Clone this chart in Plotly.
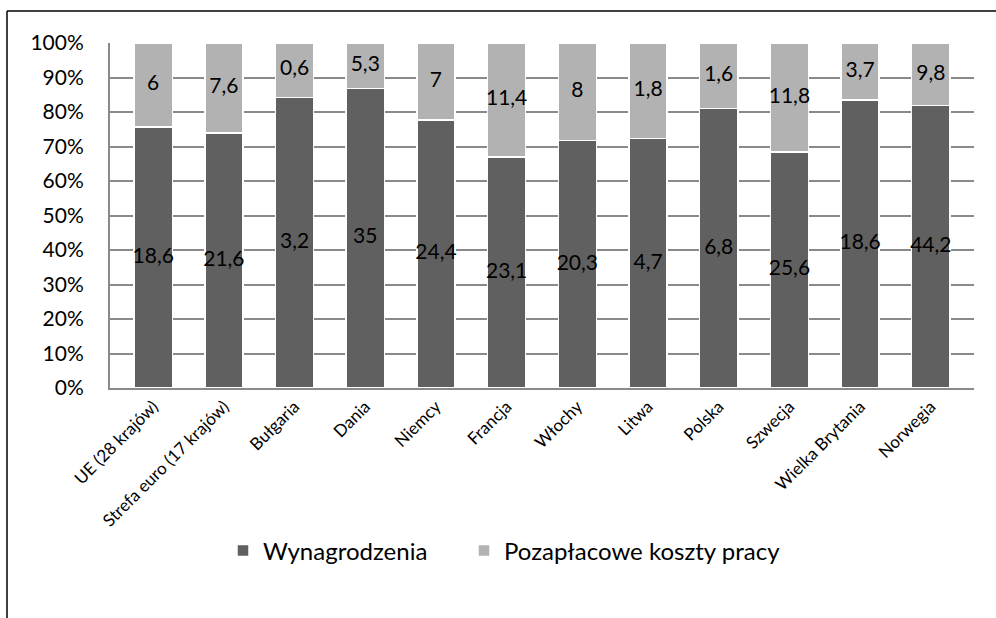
import plotly.graph_objects as go

categories = ["UE (28 krajów)", "Strefa euro (17 krajów)", "Bułgaria", "Dania", "Niemcy",
              "Francja", "Włochy", "Litwa", "Polska", "Szwecja", "Wielka Brytania", "Norwegia"]
wages = [18.6, 21.6, 3.2, 35, 24.4, 23.1, 20.3, 4.7, 6.8, 25.6, 18.6, 44.2]
nonwage = [6, 7.6, 0.6, 5.3, 7, 11.4, 8, 1.8, 1.6, 11.8, 3.7, 9.8]
y_ticks = [0, 10, 20, 30, 40, 50, 60, 70, 80, 90, 100]
y_tick_labels = ["0%", "10%", "20%", "30%", "40%", "50%", "60%", "70%", "80%", "90%", "100%"]

DARK = "#606060"
LIGHT = "#b2b2b2"
FONT = "Lato"

def fmt(v):
    s = ("%g" % v)
    return s.replace(".", ",")

fig = go.Figure()
fig.add_trace(go.Bar(x=categories, y=wages, name="Wynagrodzenia", legend="legend",
                     marker=dict(color=DARK, line=dict(color="white", width=1.5))))
fig.add_trace(go.Bar(x=categories, y=nonwage, name="Pozapłacowe koszty pracy", legend="legend2",
                     marker=dict(color=LIGHT, line=dict(color="white", width=1.5))))

# labels at segment midpoints (percent share computed from data)
w_mid, n_mid = [], []
for w, n in zip(wages, nonwage):
    t = w + n
    wp = w / t * 100
    w_mid.append(wp / 2)
    n_mid.append(wp + (100 - wp) / 2)

fig.add_trace(go.Scatter(x=categories, y=w_mid, mode="text", text=[fmt(v) for v in wages],
                         textfont=dict(family=FONT, size=21, color="black"),
                         showlegend=False, hoverinfo="skip"))
fig.add_trace(go.Scatter(x=categories, y=n_mid, mode="text", text=[fmt(v) for v in nonwage],
                         textfont=dict(family=FONT, size=21, color="black"),
                         showlegend=False, hoverinfo="skip"))

L, T, R, B = 110, 43, 22, 230
W, H = 996, 618
pw, ph = W - L - R, H - T - B
fx = (7 - L) / pw
fy = 1 + (T - 11) / ph
ly = (388 - 551) / ph

leg_common = dict(orientation="h", yanchor="middle", xanchor="left", y=ly,
                  font=dict(family=FONT, size=24, color="black"),
                  bgcolor="rgba(0,0,0,0)")

fig.update_layout(
    width=W, height=H,
    margin=dict(l=L, r=R, t=T, b=B, autoexpand=False),
    barmode="stack", barnorm="percent", bargap=0.46,
    plot_bgcolor="white", paper_bgcolor="white",
    font=dict(family=FONT, color="black"),
    showlegend=True,
    legend=dict(x=(223 - L) / pw, **leg_common),
    legend2=dict(x=(464 - L) / pw, **leg_common),
    xaxis=dict(tickangle=-45, tickfont=dict(family=FONT, size=17, color="black"),
               showline=True, linecolor="#8a8a8a", linewidth=2, ticks="", showgrid=False,
               automargin=False),
    yaxis=dict(range=[0, 100], tickvals=y_ticks, ticktext=y_tick_labels,
               tickfont=dict(family=FONT, size=21, color="black"),
               showgrid=True, gridcolor="#8a8a8a", gridwidth=2,
               showline=True, linecolor="#8a8a8a", linewidth=2, zeroline=False,
               ticks="", ticklabelstandoff=20, automargin=False),
    shapes=[
        dict(type="line", xref="paper", yref="paper", x0=fx, x1=1.5, y0=fy, y1=fy,
             line=dict(color="black", width=1.5)),
        dict(type="line", xref="paper", yref="paper", x0=fx, x1=fx, y0=fy, y1=-1,
             line=dict(color="black", width=1.5)),
    ],
)

fig.write_html("out.html", config={"displayModeBar": False},
               post_script="document.body.style.margin='0';")
